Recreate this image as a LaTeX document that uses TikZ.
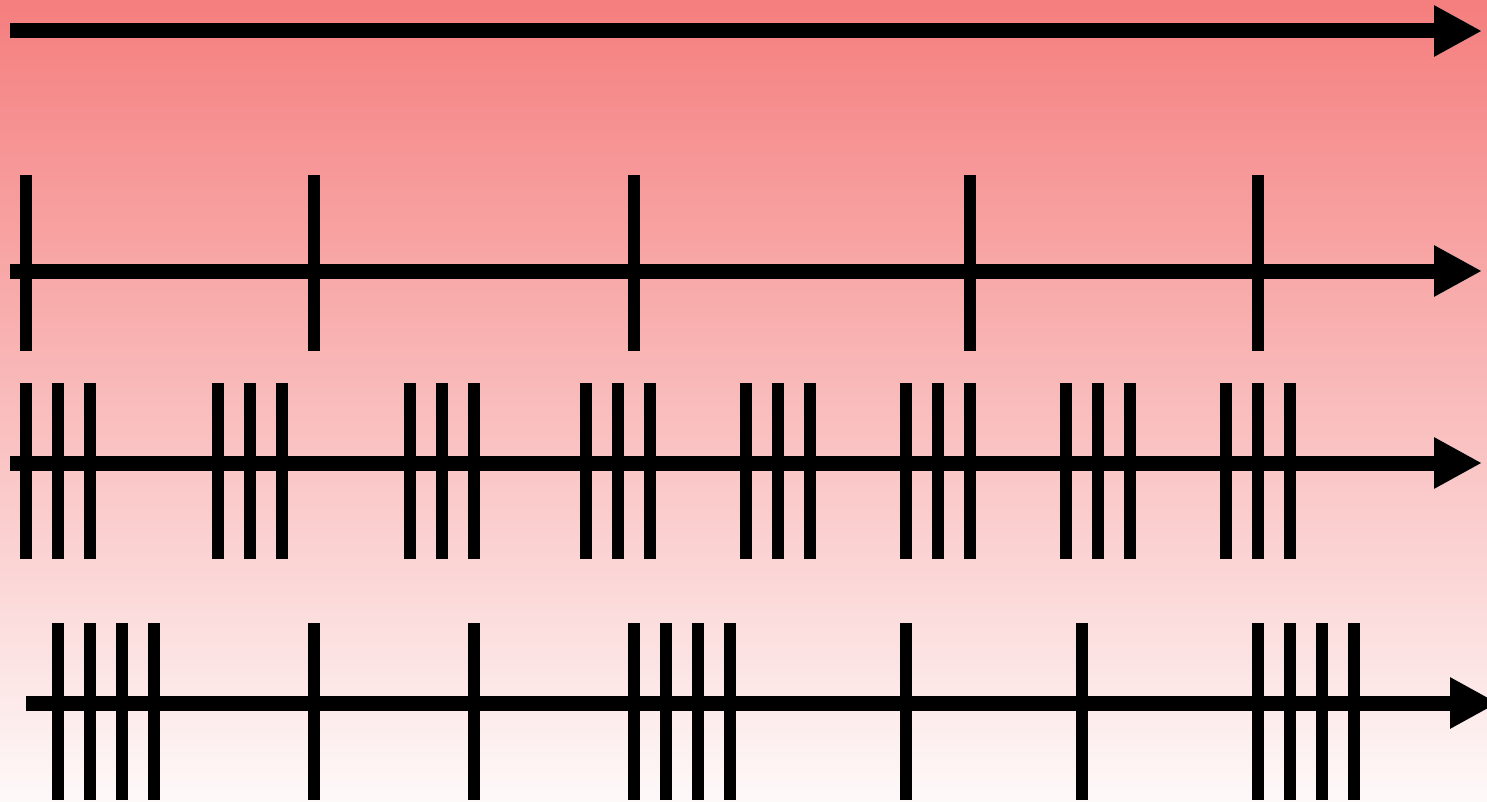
\documentclass[tikz,border=0pt]{standalone}
\usetikzlibrary{arrows.meta}
\definecolor{bgtop}{RGB}{245,126,126}
\definecolor{bgmid}{RGB}{249,204,202}
\definecolor{bgbot}{RGB}{254,249,249}
\tikzset{
    axis/.style={line width=15pt, -{Triangle[length=48pt,width=48pt]}},
    tick/.style={line width=12pt}
}
\begin{document}
\begin{tikzpicture}[x=1pt, y=-1pt]
    \useasboundingbox (0,0) rectangle (1487,802);
    \shade[top color=bgtop, middle color=bgmid, bottom color=bgbot] (0,0) rectangle (1487,802);

    % plain axis
    \draw[axis] (10,31) -- (1482,31);

    % single ticks
    \foreach \x in {26,314,634,970,1258}
        \draw[tick] (\x,175) -- (\x,351);
    \draw[axis] (10,271) -- (1482,271);

    % groups of three
    \foreach \x in {26,218,410,586,746,906,1066,1226}
        \foreach \d in {0,32,64}
            \draw[tick] (\x+\d,383) -- (\x+\d,559);
    \draw[axis] (10,463) -- (1482,463);

    % mixed
    \foreach \x in {58,634,1258}
        \foreach \d in {0,32,64,96}
            \draw[tick] (\x+\d,623) -- (\x+\d,800);
    \foreach \x in {314,474,906,1082}
        \draw[tick] (\x,623) -- (\x,800);
    \draw[axis] (26,703) -- (1498,703);
\end{tikzpicture}
\end{document}
